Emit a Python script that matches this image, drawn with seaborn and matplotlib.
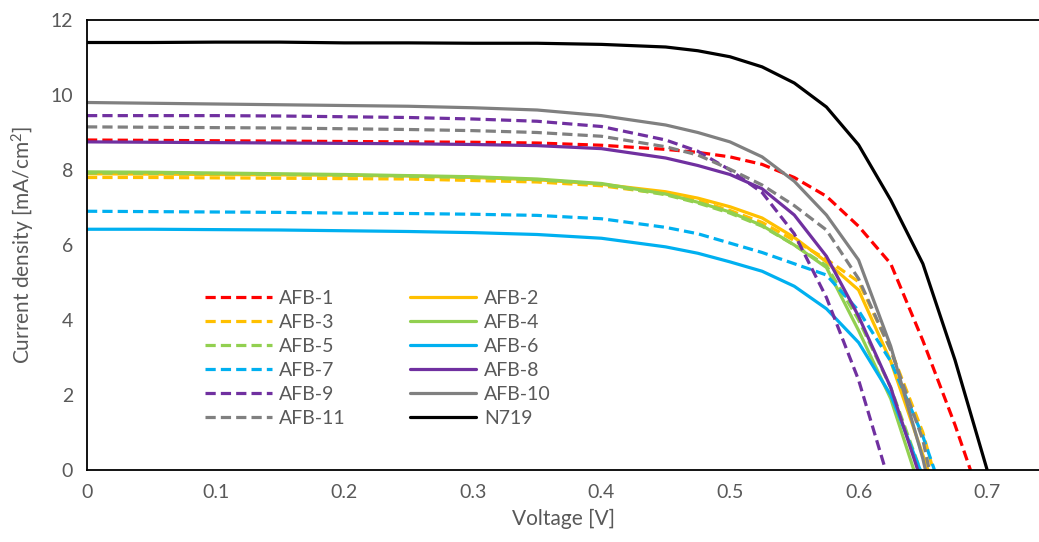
import pandas as pd
import matplotlib
matplotlib.use("Agg")
import matplotlib.pyplot as plt
import seaborn as sns

# Voltage grid [V] shared by all cells; each cell ends at its own Voc (J = 0)
voltage = [0, 0.05, 0.1, 0.15, 0.2, 0.25, 0.3, 0.35, 0.4, 0.45, 0.475,
           0.5, 0.525, 0.55, 0.575, 0.6, 0.625, 0.65, 0.675]

# Current density [mA/cm2]
afb1 = [8.80, 8.79, 8.78, 8.77, 8.76, 8.75, 8.74, 8.72, 8.66, 8.55, 8.47, 8.35, 8.15, 7.80, 7.30, 6.50, 5.50, 3.45, 1.20]
afb2 = [7.90, 7.89, 7.88, 7.87, 7.86, 7.84, 7.80, 7.74, 7.62, 7.42, 7.25, 7.02, 6.72, 6.20, 5.55, 4.80, 2.90]
afb3 = [7.80, 7.80, 7.79, 7.78, 7.77, 7.76, 7.72, 7.68, 7.58, 7.36, 7.18, 6.92, 6.60, 6.12, 5.62, 5.02, 3.20, 1.00]
afb4 = [7.95, 7.94, 7.92, 7.90, 7.88, 7.85, 7.82, 7.76, 7.64, 7.36, 7.14, 6.88, 6.52, 6.00, 5.40, 3.72, 1.90]
afb5 = [7.92, 7.91, 7.90, 7.88, 7.86, 7.83, 7.80, 7.74, 7.62, 7.34, 7.12, 6.85, 6.50, 6.00, 5.45, 4.00, 2.20]
afb6 = [6.42, 6.42, 6.41, 6.40, 6.38, 6.36, 6.33, 6.28, 6.18, 5.95, 5.78, 5.55, 5.30, 4.90, 4.30, 3.40, 2.00]
afb7 = [6.90, 6.89, 6.88, 6.87, 6.85, 6.84, 6.82, 6.79, 6.70, 6.47, 6.30, 6.05, 5.80, 5.50, 5.20, 4.25, 2.90, 0.90]
afb8 = [8.75, 8.74, 8.73, 8.72, 8.71, 8.70, 8.68, 8.65, 8.57, 8.32, 8.12, 7.88, 7.50, 6.80, 5.70, 4.10, 2.20]
afb9 = [9.45, 9.45, 9.45, 9.44, 9.42, 9.40, 9.36, 9.30, 9.16, 8.80, 8.50, 8.00, 7.40, 6.30, 4.60, 2.40]
afb10 = [9.80, 9.78, 9.76, 9.74, 9.72, 9.70, 9.66, 9.60, 9.45, 9.20, 9.00, 8.75, 8.35, 7.70, 6.80, 5.60, 3.30, 0.30]
afb11 = [9.15, 9.14, 9.13, 9.12, 9.10, 9.08, 9.05, 9.00, 8.90, 8.62, 8.40, 8.02, 7.60, 7.05, 6.40, 5.10, 3.20, 0.80]
n719 = [11.40, 11.40, 11.41, 11.41, 11.39, 11.39, 11.38, 11.38, 11.35, 11.28, 11.18, 11.02, 10.75, 10.32, 9.68, 8.67, 7.20, 5.50, 2.93]

names = ["AFB-1", "AFB-2", "AFB-3", "AFB-4", "AFB-5", "AFB-6", "AFB-7",
         "AFB-8", "AFB-9", "AFB-10", "AFB-11", "N719"]
currents = [afb1, afb2, afb3, afb4, afb5, afb6, afb7, afb8, afb9, afb10, afb11, n719]
voc = [0.687, 0.654, 0.658, 0.643, 0.648, 0.648, 0.659, 0.646, 0.621, 0.652, 0.655, 0.700]

colors = {"AFB-1": "#FF0000", "AFB-2": "#FFC000", "AFB-3": "#FFC000",
          "AFB-4": "#92D050", "AFB-5": "#92D050", "AFB-6": "#00B0F0",
          "AFB-7": "#00B0F0", "AFB-8": "#7030A0", "AFB-9": "#7030A0",
          "AFB-10": "#808080", "AFB-11": "#808080", "N719": "#000000"}
dashed = (3.2, 1.6)
dashes = {n: ("" if n in ["AFB-2", "AFB-4", "AFB-6", "AFB-8", "AFB-10", "N719"] else dashed)
          for n in names}

rows = []
for name, j, v_oc in zip(names, currents, voc):
    for v, c in zip(voltage[:len(j)], j):
        rows.append((name, v, c))
    rows.append((name, v_oc, 0.0))
df = pd.DataFrame(rows, columns=["cell", "V", "J"])

sns.set_style("white")
plt.rcParams["font.family"] = ["Lato", "DejaVu Sans"]
plt.rcParams["mathtext.default"] = "regular"
text_color = "#595959"

fig = plt.figure(figsize=(10.39, 5.42), dpi=100)
ax = fig.add_axes([87 / 1039, 1 - 470 / 542, 1 - 87 / 1039, 450 / 542])

sns.lineplot(data=df, x="V", y="J", hue="cell", style="cell",
             palette=colors, dashes=dashes, hue_order=names, style_order=names,
             sort=False, estimator=None, linewidth=2.3, ax=ax)

ax.set_xlim(0, 0.7403)
ax.set_ylim(0, 12)
ax.set_xticks([0, 0.1, 0.2, 0.3, 0.4, 0.5, 0.6, 0.7])
ax.set_xticklabels(["0", "0.1", "0.2", "0.3", "0.4", "0.5", "0.6", "0.7"])
ax.set_yticks(range(0, 13, 2))
ax.tick_params(length=0, labelsize=14, colors=text_color, pad=10)
ax.set_xlabel("Voltage [V]", fontsize=15, color=text_color, labelpad=6)
ax.set_ylabel("Current density [mA/cm$^2$]", fontsize=15, color=text_color, labelpad=10)

for side in ["top", "left", "bottom"]:
    ax.spines[side].set_color("#000000")
    ax.spines[side].set_linewidth(1.3)
ax.spines["right"].set_visible(False)

handles, labels = ax.get_legend_handles_labels()
lookup = dict(zip(labels, handles))
order = ["AFB-1", "AFB-3", "AFB-5", "AFB-7", "AFB-9", "AFB-11",
         "AFB-2", "AFB-4", "AFB-6", "AFB-8", "AFB-10", "N719"]
leg = ax.legend([lookup[n] for n in order], order, ncol=2, frameon=False,
                loc="upper left", bbox_to_anchor=(0.106, 0.44),
                fontsize=14, handlelength=3.4, handletextpad=0.4,
                columnspacing=3.3, labelspacing=0.36)
for t in leg.get_texts():
    t.set_color(text_color)

fig.savefig("out.png", dpi=100)
